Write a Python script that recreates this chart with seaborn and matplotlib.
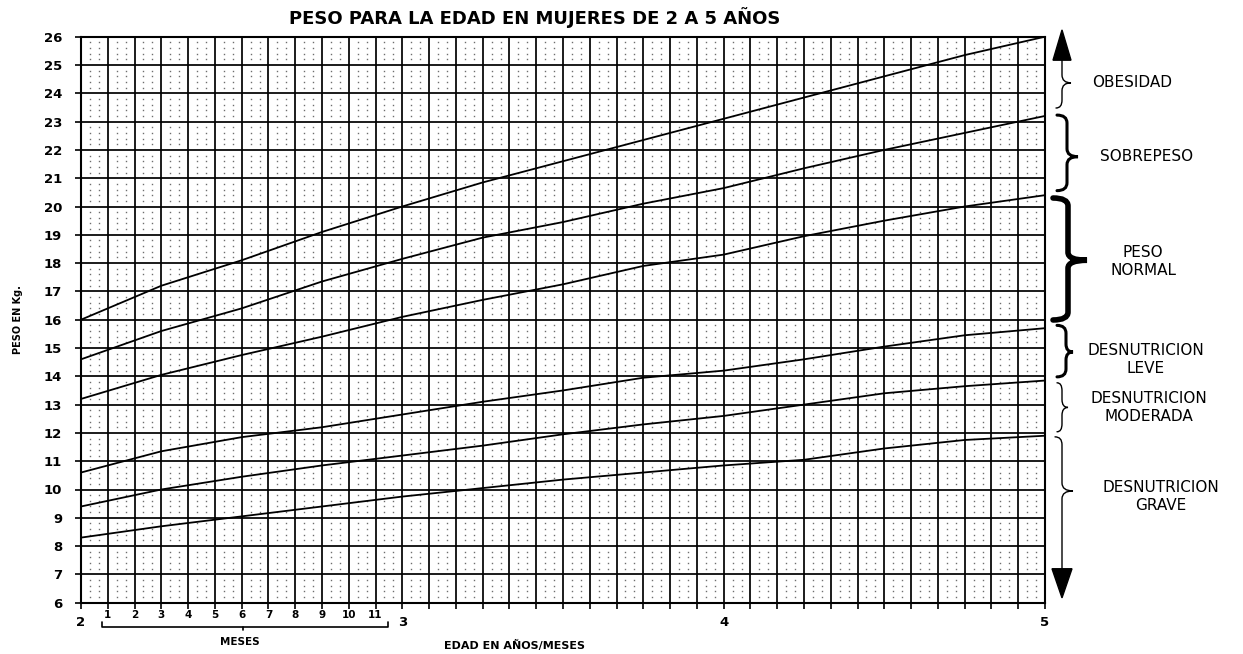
import numpy as np
import pandas as pd
import matplotlib.pyplot as plt
import seaborn as sns
import matplotlib.transforms as mtransforms
from matplotlib.path import Path
from matplotlib.patches import PathPatch, Polygon

# datos (meses desde los 2 anos, peso en kg)
meses = [0, 3, 6, 9, 12, 15, 18, 21, 24, 27, 30, 33, 36]
curva_1 = [16.0, 17.2, 18.1, 19.1, 20.0, 20.85, 21.6, 22.35, 23.1, 23.85, 24.6, 25.35, 26.0]
curva_2 = [14.6, 15.6, 16.4, 17.35, 18.15, 18.9, 19.45, 20.1, 20.65, 21.35, 22.0, 22.6, 23.2]
curva_3 = [13.2, 14.05, 14.75, 15.4, 16.1, 16.7, 17.25, 17.9, 18.3, 18.95, 19.5, 20.0, 20.4]
curva_4 = [10.6, 11.35, 11.85, 12.2, 12.65, 13.1, 13.5, 13.95, 14.2, 14.6, 15.05, 15.45, 15.7]
curva_5 = [9.4, 10.0, 10.45, 10.85, 11.2, 11.55, 11.95, 12.3, 12.6, 13.0, 13.4, 13.65, 13.85]
curva_6 = [8.3, 8.7, 9.05, 9.4, 9.75, 10.05, 10.35, 10.6, 10.85, 11.05, 11.45, 11.75, 11.9]

anos = [2, 3, 4, 5]
meses_label = [str(m) for m in range(1, 12)]
zonas = ["OBESIDAD", "SOBREPESO", "PESO\nNORMAL", "DESNUTRICION\nLEVE",
         "DESNUTRICION\nMODERADA", "DESNUTRICION\nGRAVE"]

curvas = [curva_1, curva_2, curva_3, curva_4, curva_5, curva_6]
rows = []
for i, c in enumerate(curvas):
    for m, p in zip(meses, c):
        rows.append({"edad": 2 + m / 12, "peso": p, "curva": i})
df = pd.DataFrame(rows)

sns.set_style("white")
plt.rcParams['font.family'] = ['DejaVu Sans']
plt.rcParams['text.color'] = 'black'
plt.rcParams['xtick.color'] = 'black'
plt.rcParams['ytick.color'] = 'black'
plt.rcParams['axes.labelcolor'] = 'black'

W, H = 1243, 654
fig = plt.figure(figsize=(W / 100, H / 100), dpi=100)
L, R, T, B = 81, 1045, 36.7, 602.7
ax = fig.add_axes([L / W, 1 - B / H, (R - L) / W, (B - T) / H])

def fx(px):
    return (px - L) / (R - L)

def fyax(py):
    return (B - py) / (B - T)

ax.set_xlim(2, 5)
ax.set_ylim(6, 26)

# rejilla de puntos
kx = np.array([k for k in range(1, 108) if k % 3 != 0])
ky = np.array([j for j in range(1, 100) if j % 5 != 0])
gx, gy = np.meshgrid(2 + kx / 36, 6 + ky * 0.2)
ax.plot(gx.ravel(), gy.ravel(), 's', ms=1.0, mew=0, color='#6e6e6e', zorder=0.3)

xt = [2 + k / 12 for k in range(37)]
ax.set_xticks(xt)
ax.set_xticklabels([""] + meses_label + [""] * 25)
ax.set_yticks(range(6, 27))
ax.grid(which='major', color='black', lw=1.25, zorder=0.5)
ax.set_axisbelow(True)
ax.tick_params(axis='x', length=4, width=1.2, pad=1, labelsize=7.5, direction='out', bottom=True)
ax.tick_params(axis='y', length=4.5, width=1.2, pad=9, labelsize=9.5, direction='out', left=True)
for lab in ax.get_xticklabels() + ax.get_yticklabels():
    lab.set_fontweight('bold')
for s in ax.spines.values():
    s.set_color('black')
    s.set_linewidth(1.5)

sns.lineplot(data=df, x="edad", y="peso", hue="curva", palette=['black'] * 6,
             legend=False, ax=ax, linewidth=1.3, zorder=3)
ax.set_xlabel("")
ax.set_ylabel("")

# etiquetas de anos
tx = mtransforms.blended_transform_factory(ax.transData, ax.transAxes)
for a in anos:
    ax.text(a, fyax(623), str(a), transform=tx, ha='center', va='center',
            fontsize=9.5, fontweight='bold')

# llave de meses
ax.plot([2.065, 2.065, 2.955, 2.955], [fyax(622), fyax(627), fyax(627), fyax(622)],
        color='black', lw=1.2, transform=tx, clip_on=False)
ax.plot([2.504, 2.504], [fyax(627), fyax(630)], color='black', lw=1.2,
        transform=tx, clip_on=False)
fig.text(240 / W, 1 - 642 / H, "MESES", ha='center', va='center', fontsize=7.5, fontweight='bold')
fig.text(515 / W, 1 - 645 / H, "EDAD EN AÑOS/MESES", ha='center', va='center',
         fontsize=8, fontweight='bold')
fig.text(18 / W, 1 - 320 / H, "PESO EN Kg.", rotation=90, ha='center', va='center',
         fontsize=7, fontweight='bold')
fig.text(535 / W, 1 - 18 / H, "PESO PARA LA EDAD EN MUJERES DE 2 A 5 AÑOS",
         ha='center', va='center', fontsize=13, fontweight='bold')

# llaves y flechas de la derecha
ty = mtransforms.blended_transform_factory(ax.transAxes, ax.transData)

def brace(y_top, y_mid, y_bot, spine, end, tip, lw, top_curl=True, bot_curl=True, r=0.28):
    xs, xe, xt_ = fx(spine), fx(end), fx(tip)
    v, c = [], []
    if top_curl:
        v += [(xe, y_top), (xs, y_top), (xs, y_top - r)]
        c += [Path.MOVETO, Path.CURVE3, Path.CURVE3]
    else:
        v += [(xs, y_top)]
        c += [Path.MOVETO]
    v += [(xs, y_mid + r), (xs, y_mid), (xt_, y_mid), (xs, y_mid), (xs, y_mid - r)]
    c += [Path.LINETO, Path.CURVE3, Path.CURVE3, Path.CURVE3, Path.CURVE3]
    if bot_curl:
        v += [(xs, y_bot + r), (xs, y_bot), (xe, y_bot)]
        c += [Path.LINETO, Path.CURVE3, Path.CURVE3]
    else:
        v += [(xs, y_bot)]
        c += [Path.LINETO]
    ax.add_patch(PathPatch(Path(v, c), fill=False, lw=lw, color='black',
                           transform=ty, clip_on=False, capstyle='round'))

brace(25.17, 24.37, 23.48, 1062, 1056, 1071, 1.0, top_curl=False)
brace(23.23, 21.76, 20.56, 1067, 1057, 1078, 2.2)
brace(20.3, 18.1, 15.99, 1068, 1053, 1087, 4.0)
brace(15.8, 14.86, 13.98, 1066, 1057, 1073, 2.2)
brace(13.77, 12.9, 12.04, 1062, 1057, 1068, 1.0)
brace(11.86, 9.95, 7.2, 1062, 1055, 1073, 1.0, bot_curl=False)

ax.add_patch(Polygon([(fx(1062), 26.24), (fx(1053), 25.17), (fx(1071), 25.17)],
                     closed=True, color='black', transform=ty, clip_on=False))
ax.add_patch(Polygon([(fx(1062), 6.17), (fx(1052), 7.2), (fx(1072), 7.2)],
                     closed=True, color='black', transform=ty, clip_on=False))

zona_x = [1132, 1147, 1143, 1146, 1149, 1161]
zona_y = [24.37, 21.76, 18.07, 14.6, 12.88, 9.77]
for t, x, y in zip(zonas, zona_x, zona_y):
    ax.text(fx(x), y, t, transform=ty, ha='center', va='center', fontsize=11,
            linespacing=1.25)

fig.savefig("out.png", dpi=100)
